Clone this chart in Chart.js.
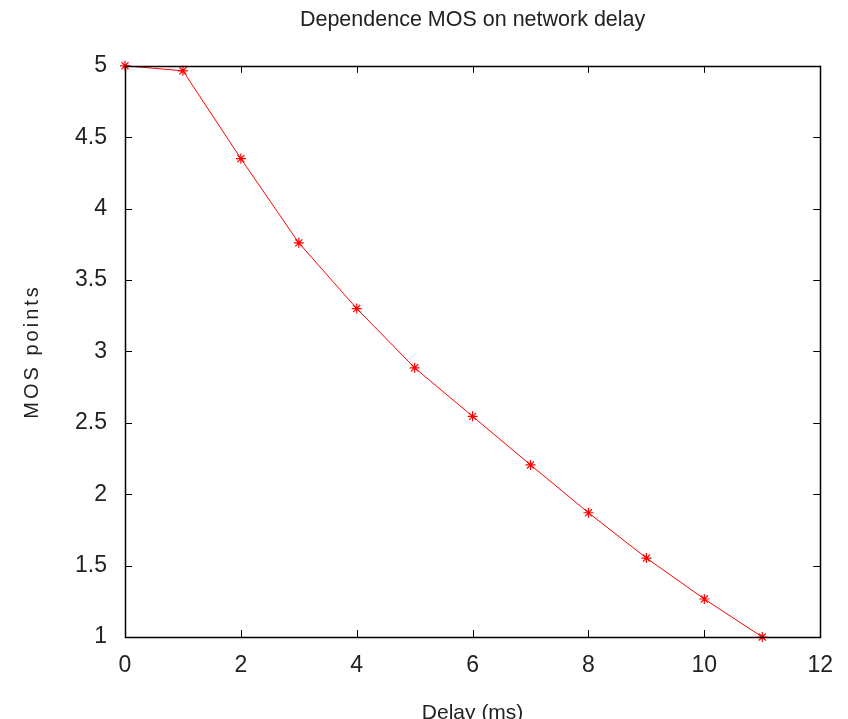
<!DOCTYPE html>
<html>
<head>
<meta charset="utf-8">
<script src="https://cdn.jsdelivr.net/npm/chart.js@4"></script>
<style>
  html, body { margin: 0; padding: 0; background: #fff; overflow: hidden; }
</style>
</head>
<body>
<canvas id="chart" width="848" height="719"></canvas>
<script>
// --- Data ---
const delayMs   = [0, 1, 2, 3, 4, 5, 6, 7, 8, 9, 10, 11];
const mosPoints = [5.0, 4.965, 4.35, 3.76, 3.30, 2.885, 2.545, 2.205, 1.87, 1.553, 1.266, 1.0];

const xTicks = [0, 2, 4, 6, 8, 10, 12];
const yTicks = [1, 1.5, 2, 2.5, 3, 3.5, 4, 4.5, 5];

const FONT = 'Liberation Sans, Arial, sans-serif';
const TEXT = '#222';

// --- Frame + inward ticks on all four sides, and the spaced-out y title ---
const frameTicks = {
  id: 'frameTicks',
  afterDatasetsDraw(chart) {
    const { ctx, chartArea: a, scales } = chart;
    const len = 7;
    ctx.save();
    ctx.strokeStyle = '#000';
    ctx.lineWidth = 1;
    ctx.beginPath();
    xTicks.forEach(v => {
      const px = Math.round(scales.x.getPixelForValue(v)) + 0.5;
      ctx.moveTo(px, a.bottom); ctx.lineTo(px, a.bottom - len);
      ctx.moveTo(px, a.top);    ctx.lineTo(px, a.top + len);
    });
    yTicks.forEach(v => {
      const py = Math.round(scales.y.getPixelForValue(v)) + 0.5;
      ctx.moveTo(a.left, py);  ctx.lineTo(a.left + len, py);
      ctx.moveTo(a.right, py); ctx.lineTo(a.right - len, py);
    });
    ctx.stroke();
    ctx.lineWidth = 1.5;
    ctx.strokeRect(Math.round(a.left) + 0.5, Math.round(a.top) + 0.5,
                   Math.round(a.right - a.left), Math.round(a.bottom - a.top));

    // y axis title
    ctx.translate(38, (a.top + a.bottom) / 2);
    ctx.rotate(-Math.PI / 2);
    ctx.font = '20px ' + FONT;
    ctx.letterSpacing = '3px';
    ctx.fillStyle = TEXT;
    ctx.textAlign = 'center';
    ctx.textBaseline = 'alphabetic';
    ctx.fillText('MOS points', 0, 0);
    ctx.restore();
  }
};

new Chart(document.getElementById('chart'), {
  type: 'line',
  data: {
    datasets: [{
      data: delayMs.map((x, i) => ({ x, y: mosPoints[i] })),
      borderColor: '#ff0000',
      backgroundColor: '#ff0000',
      borderWidth: 1,
      pointStyle: 'star',
      pointRadius: 5,
      pointBorderWidth: 1.2,
      pointBorderColor: '#ff0000',
      tension: 0,
      clip: false
    }]
  },
  options: {
    responsive: false,
    animation: false,
    events: [],
    layout: { padding: { left: 0, right: 26, top: 0, bottom: 0 } },
    plugins: {
      legend: { display: false },
      tooltip: { enabled: false },
      title: {
        display: true,
        fullSize: false,
        text: 'Dependence MOS on network delay',
        color: TEXT,
        font: { family: FONT, size: 21.5, weight: 'normal' },
        padding: { top: 7, bottom: 33 }
      }
    },
    scales: {
      x: {
        type: 'linear',
        min: 0, max: 12,
        afterBuildTicks: s => { s.ticks = xTicks.map(v => ({ value: v })); },
        afterFit: s => { s.height = 82; },
        grid: { display: false, drawTicks: false },
        border: { display: false },
        ticks: {
          color: TEXT, padding: 15,
          font: { family: FONT, size: 23 },
          maxRotation: 0,
          callback: v => String(v)
        },
        title: {
          display: true, text: 'Delay (ms)', color: TEXT,
          font: { family: FONT, size: 21 },
          padding: { top: 0, bottom: -7 }
        }
      },
      y: {
        type: 'linear',
        min: 1, max: 5,
        afterBuildTicks: s => { s.ticks = yTicks.map(v => ({ value: v })); },
        afterFit: s => { s.width = 125; },
        grid: { display: false, drawTicks: false },
        border: { display: false },
        ticks: {
          color: TEXT, padding: 18,
          font: { family: FONT, size: 23 },
          callback: v => String(v)
        },
        title: { display: false }
      }
    }
  },
  plugins: [frameTicks]
});
</script>
</body>
</html>
